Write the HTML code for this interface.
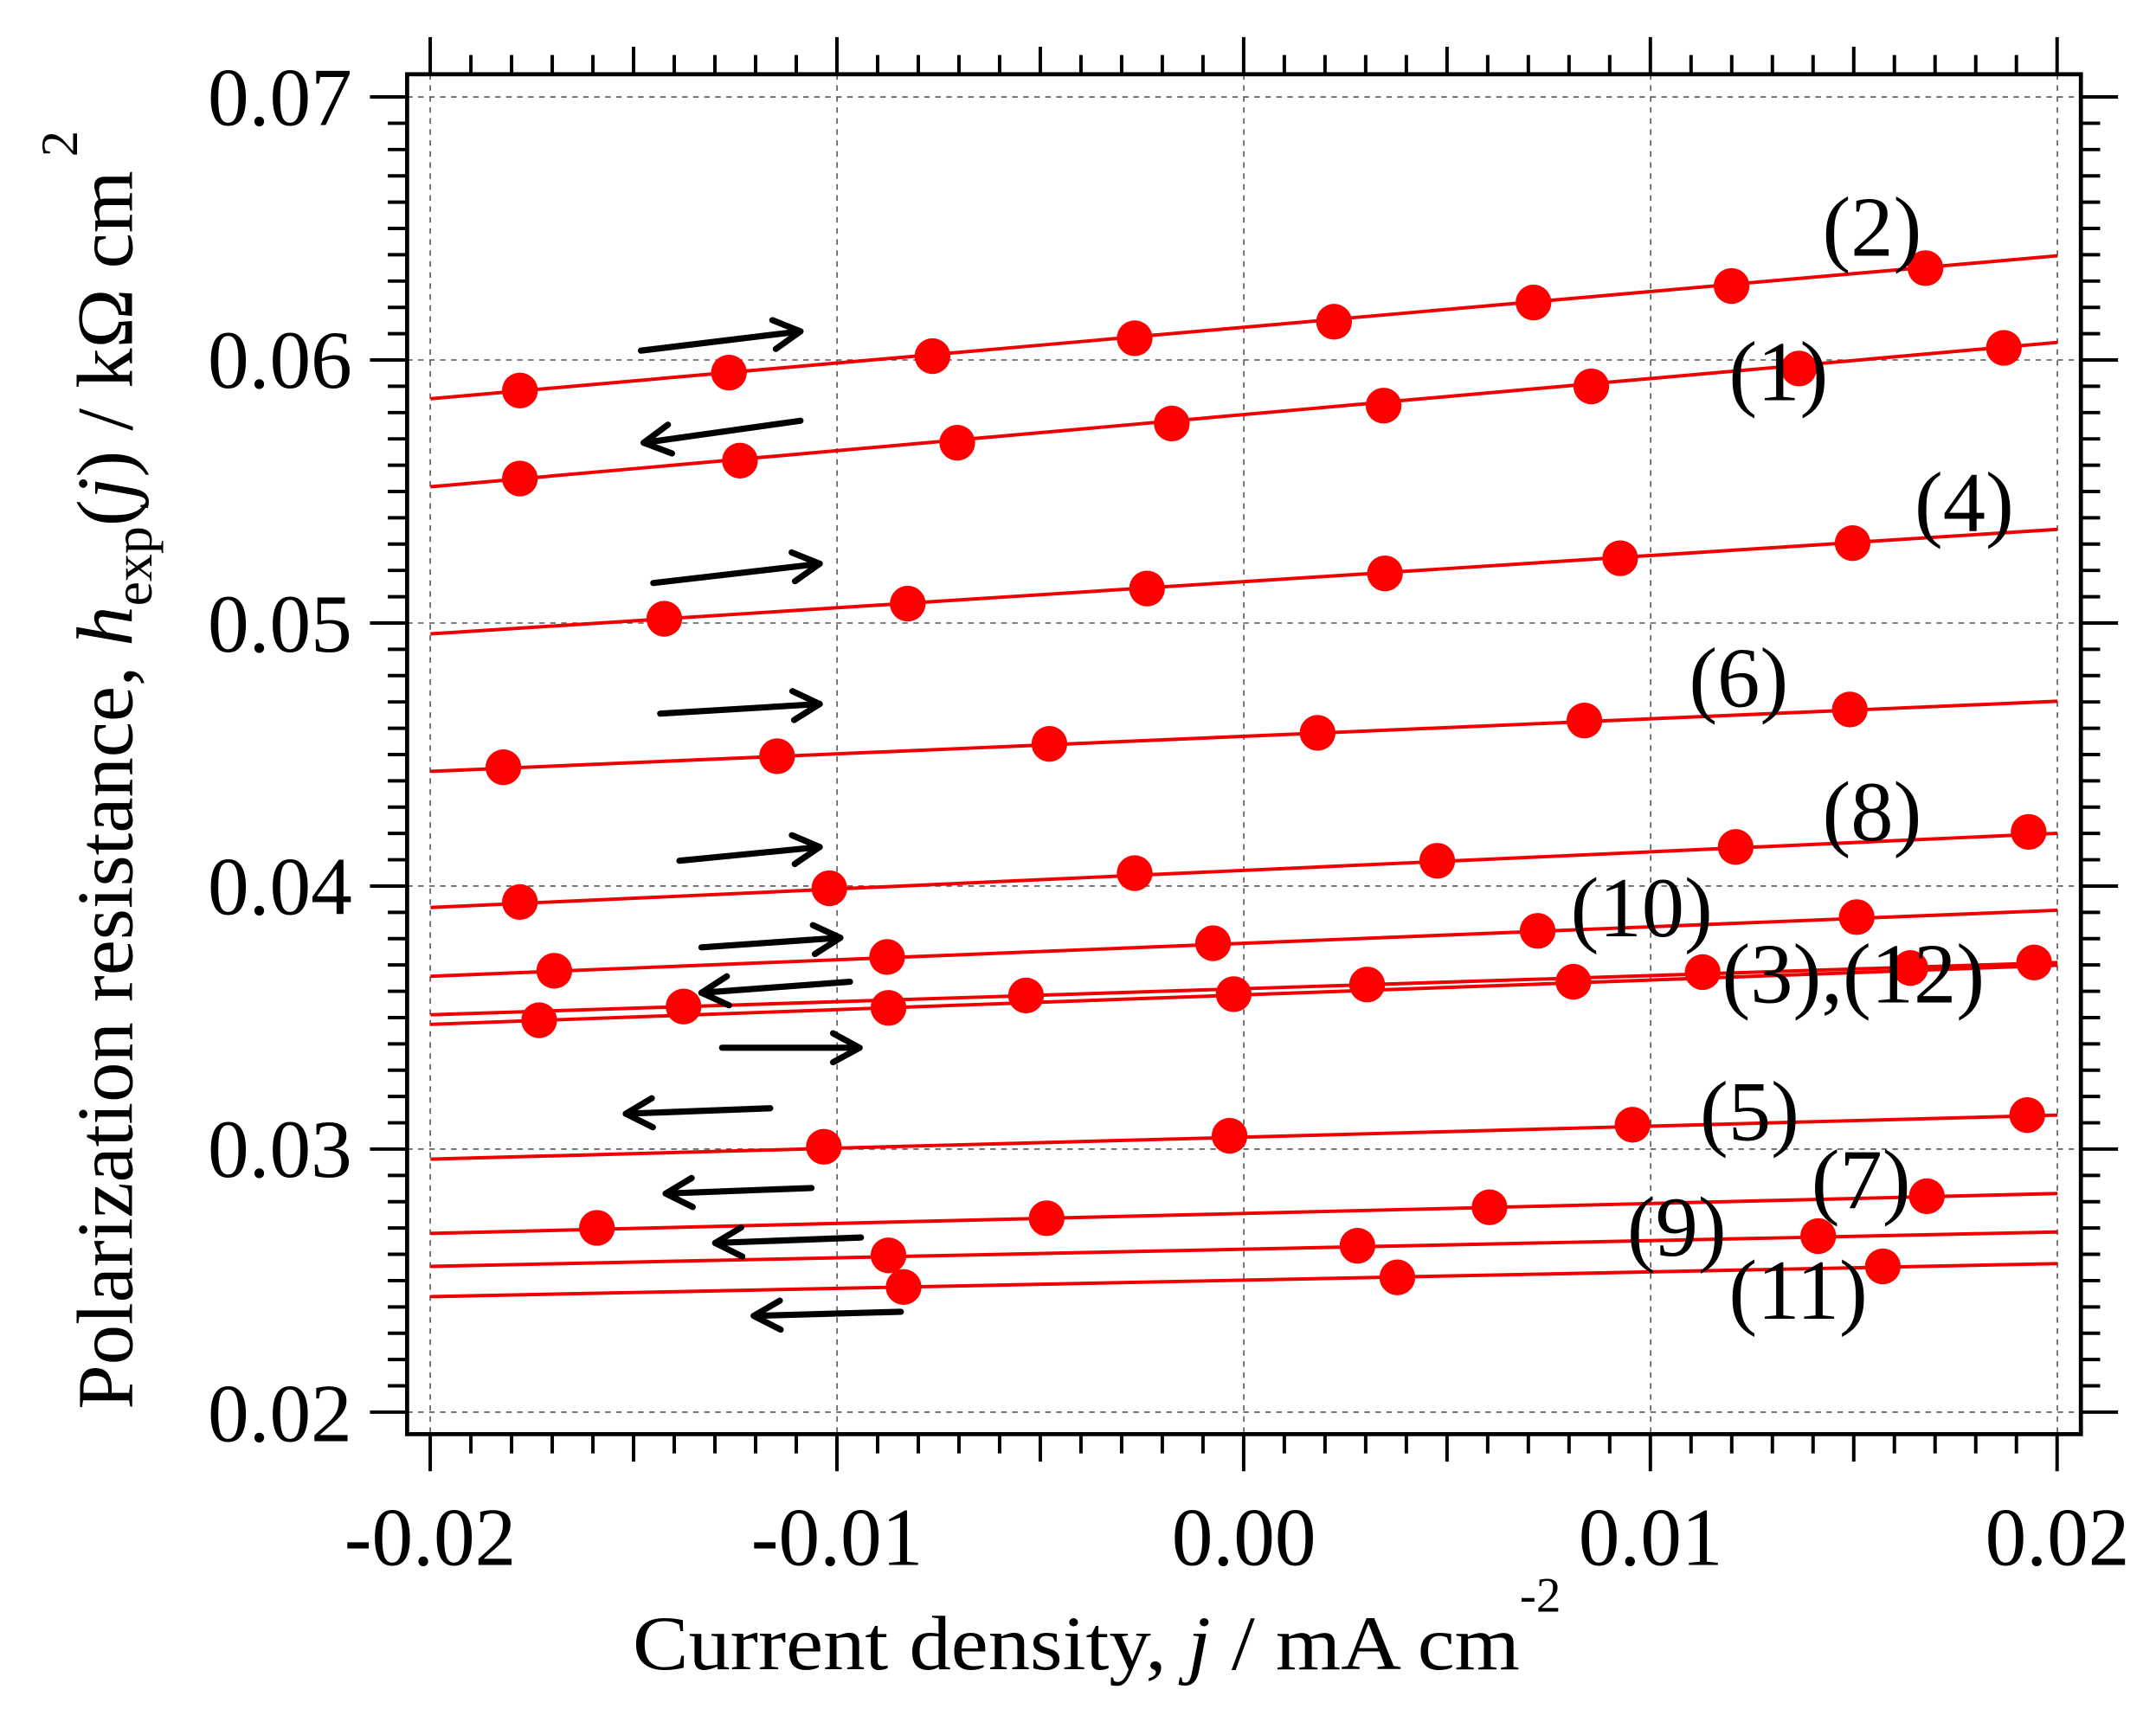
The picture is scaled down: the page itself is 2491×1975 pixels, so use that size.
<!DOCTYPE html>
<html><head><meta charset="utf-8"><style>html,body{margin:0;padding:0;background:#fff}svg{display:block}</style></head>
<body>
<svg width="2491" height="1975" viewBox="0 0 1567.6 1242.9" xmlns="http://www.w3.org/2000/svg" font-family="'Liberation Serif', serif">
<rect width="1567.6" height="1242.9" fill="#fff"/>
<g stroke="#555" stroke-width="1" stroke-dasharray="4,4">
<line x1="312.8" y1="54" x2="312.8" y2="1043"/>
<line x1="608.6" y1="54" x2="608.6" y2="1043"/>
<line x1="904.4" y1="54" x2="904.4" y2="1043"/>
<line x1="1200.2" y1="54" x2="1200.2" y2="1043"/>
<line x1="1495.9" y1="54" x2="1495.9" y2="1043"/>
<line x1="296" y1="70.5" x2="1513" y2="70.5"/>
<line x1="296" y1="261.8" x2="1513" y2="261.8"/>
<line x1="296" y1="453.1" x2="1513" y2="453.1"/>
<line x1="296" y1="644.4" x2="1513" y2="644.4"/>
<line x1="296" y1="835.7" x2="1513" y2="835.7"/>
<line x1="296" y1="1027" x2="1513" y2="1027"/>
</g>
<g id="ticks" stroke="#000" stroke-width="2.5"></g>
<rect x="296" y="54" width="1217" height="989" fill="none" stroke="#000" stroke-width="3"/>
<g stroke="#e00" stroke-width="2.5">
<line x1="313" y1="290" x2="1496" y2="186"/>
<line x1="313" y1="354" x2="1496" y2="249"/>
<line x1="313" y1="461" x2="1496" y2="385"/>
<line x1="313" y1="561" x2="1496" y2="510"/>
<line x1="313" y1="660" x2="1496" y2="606"/>
<line x1="313" y1="710" x2="1496" y2="662"/>
<line x1="313" y1="738" x2="1496" y2="700"/>
<line x1="313" y1="745" x2="1496" y2="702"/>
<line x1="313" y1="843" x2="1496" y2="811"/>
<line x1="313" y1="897" x2="1496" y2="868"/>
<line x1="313" y1="921" x2="1496" y2="896"/>
<line x1="313" y1="943" x2="1496" y2="919"/>
</g>
<g id="dots" fill="#f00"></g>
<g stroke="#000" stroke-width="4.5" fill="none" stroke-linecap="round" stroke-linejoin="round" id="arrows"></g>
<g font-size="62" fill="#000">
<text x="1325" y="186">(2)</text>
<text x="1257" y="291">(1)</text>
<text x="1392" y="386">(4)</text>
<text x="1228" y="514">(6)</text>
<text x="1325" y="611">(8)</text>
<text x="1142" y="681">(10)</text>
<text x="1252" y="729">(3),(12)</text>
<text x="1236" y="829">(5)</text>
<text x="1317" y="879">(7)</text>
<text x="1183" y="913">(9)</text>
<text x="1257" y="959">(11)</text>
</g>
<g font-size="60" text-anchor="end">
<text x="256" y="91">0.07</text>
<text x="256" y="282">0.06</text>
<text x="256" y="474">0.05</text>
<text x="256" y="665">0.04</text>
<text x="256" y="856">0.03</text>
<text x="256" y="1048">0.02</text>
</g>
<g font-size="60" text-anchor="middle">
<text x="312.8" y="1138">-0.02</text>
<text x="608.6" y="1138">-0.01</text>
<text x="904.4" y="1138">0.00</text>
<text x="1200.2" y="1138">0.01</text>
<text x="1495.9" y="1138">0.02</text>
</g>
<text x="460" y="1214" font-size="56" textLength="645" lengthAdjust="spacingAndGlyphs">Current density, <tspan font-style="italic">j</tspan> / mA cm</text>
<text x="1105" y="1172" font-size="36">-2</text>
<text transform="translate(96,1025) rotate(-90)" font-size="58" textLength="930" lengthAdjust="spacingAndGlyphs">Polarization resistance, <tspan font-style="italic">h</tspan><tspan font-size="40" dy="14">exp</tspan><tspan dy="-14">(</tspan><tspan font-style="italic">j</tspan>) / kΩ cm<tspan font-size="38" dy="-40" dx="10">2</tspan></text>
</svg>
<script>
const NS="http://www.w3.org/2000/svg";
function el(p,t,a){const e=document.createElementNS(NS,t);for(const k in a)e.setAttribute(k,a[k]);p.appendChild(e);return e;}
const tk=document.getElementById('ticks');
for(let i=0;i<=40;i++){const x=312.8+i*29.5725;const L=(i%10==0)?27:(i%5==0)?20:14;
el(tk,'line',{x1:x,y1:1043,x2:x,y2:1043+L});el(tk,'line',{x1:x,y1:54,x2:x,y2:54-L});}
for(let i=0;i<=50;i++){const y=1027-i*19.13;const L=(i%10==0)?27:14;
el(tk,'line',{x1:296,y1:y,x2:296-L,y2:y});el(tk,'line',{x1:1513,y1:y,x2:1513+L,y2:y});}
const pts=[[378,284],[530,271],[678,259],[825,246],[970,234],[1115,220],[1259,208],[1400,195],
[378,348],[538,335],[696,322],[852,308],[1006,295],[1157,281],[1308,268],[1457,253],
[483,450],[660,439],[834,428],[1007,417],[1178,406],[1347,395],
[366,558],[565,550],[763,541],[958,533],[1152,524],[1345,516],
[378,656],[603,646],[825,635],[1045,626],[1262,616],[1475,605],
[403,706],[645,696],[882,686],[1118,677],[1350,667],
[392,742],[646,733],[897,723],[1144,714],[1389,704],
[497,732],[746,724],[994,716],[1238,707],[1479,700],
[599,834],[894,826],[1187,818],[1474,811],
[434,893],[761,886],[1083,878],[1401,870],
[646,913],[987,906],[1322,899],
[657,936],[1016,929],[1369,921]];
const d=document.getElementById('dots');
pts.forEach(p=>el(d,'circle',{cx:p[0],cy:p[1],r:13}));
const ar=[[466,255,582,241],[582,306,468,322],[475,424,596,410],[480,519,596,512],[494,626,596,616],[510,689,611,682],[618,714,510,722],[525,762,625,762],[560,806,455,810],[590,864,484,868],[626,900,520,904],[655,954,548,957]];
const ag=document.getElementById('arrows');
ar.forEach(a=>{const[x1,y1,x2,y2]=a;el(ag,'line',{x1,y1,x2,y2});
const ang=Math.atan2(y2-y1,x2-x1),h=22,s=0.5;
const p1=[x2-h*Math.cos(ang-s),y2-h*Math.sin(ang-s)],p2=[x2-h*Math.cos(ang+s),y2-h*Math.sin(ang+s)];
el(ag,'polyline',{points:`${p1[0]},${p1[1]} ${x2},${y2} ${p2[0]},${p2[1]}`});});
</script>
</body></html>
